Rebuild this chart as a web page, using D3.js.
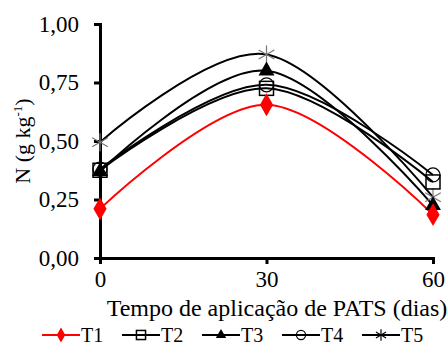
<!DOCTYPE html>
<html>
<head>
<meta charset="utf-8">
<script src="https://cdn.jsdelivr.net/npm/d3@7"></script>
<style>
  body { margin: 0; background: #fff; }
</style>
</head>
<body>
<div id="chart"></div>
<script>
// data
const days = [0, 30, 60];
const seriesNames = ['T1', 'T2', 'T3', 'T4', 'T5'];
const t1 = [0.21, 0.655, 0.185];
const t2 = [0.375, 0.725, 0.325];
const t3 = [0.37, 0.80, 0.225];
const t4 = [0.38, 0.74, 0.355];
const t5 = [0.495, 0.87, 0.26];
const yTicks = [0, 0.25, 0.5, 0.75, 1];

const width = 448, height = 345;
const margin = {left: 100, right: 15, top: 24, bottom: 87};
const serif = 'Liberation Serif';

const svg = d3.select('#chart').append('svg')
  .attr('width', width).attr('height', height);

const x = d3.scaleLinear().domain([0, 60]).range([margin.left, width - margin.right]);
const y = d3.scaleLinear().domain([0, 1]).range([height - margin.bottom, margin.top]);

const fmt = d => d3.format('.2f')(d).replace('.', ',');

// axes
const yAxis = svg.append('g').attr('transform', `translate(${margin.left},0)`)
  .call(d3.axisLeft(y).tickValues(yTicks).tickFormat(fmt).tickSize(6).tickPadding(15));
const xAxis = svg.append('g').attr('transform', `translate(0,${y(0)})`)
  .call(d3.axisBottom(x).tickValues(days).tickSize(6).tickPadding(7));
[yAxis, xAxis].forEach(g => {
  g.attr('font-family', null).attr('font-size', null);
  g.select('.domain').attr('stroke', '#000').attr('stroke-width', 3);
  g.selectAll('.tick line').attr('stroke', '#000').attr('stroke-width', 3);
  g.selectAll('.tick text').attr('fill', '#000')
    .attr('font-family', serif).attr('font-size', 23);
});

// axis titles
svg.append('text')
  .attr('transform', `translate(30,141) rotate(-90)`)
  .attr('text-anchor', 'middle')
  .attr('font-family', serif).attr('font-size', 22)
  .html('N (g kg<tspan dy="-8" font-size="13">-1</tspan><tspan dy="8">)</tspan>');

svg.append('text')
  .attr('x', 277).attr('y', 316)
  .attr('text-anchor', 'middle')
  .attr('font-family', serif).attr('font-size', 24)
  .text('Tempo de aplicação de PATS (dias)');

// series
const series = [
  {name: 'T1', vals: t1, color: '#f00', shape: 'diamond'},
  {name: 'T2', vals: t2, color: '#000', shape: 'square'},
  {name: 'T3', vals: t3, color: '#000', shape: 'triangle'},
  {name: 'T4', vals: t4, color: '#000', shape: 'circle'},
  {name: 'T5', vals: t5, color: '#000', shape: 'star'}
];

const line = d3.line()
  .x((d, i) => x(days[i]))
  .y(d => y(d))
  .curve(d3.curveCatmullRom.alpha(0));

function drawMarker(g, shape, cx, cy, color, s) {
  s = s || 1;
  if (shape === 'diamond') {
    g.append('path').attr('d', d3.symbol(d3.symbolDiamond, 150 * s * s)())
      .attr('transform', `translate(${cx},${cy})`).attr('fill', color);
  } else if (shape === 'square') {
    g.append('rect').attr('x', cx - 7 * s).attr('y', cy - 7 * s)
      .attr('width', 14 * s).attr('height', 14 * s)
      .attr('fill', 'none').attr('stroke', color).attr('stroke-width', 1.5);
  } else if (shape === 'triangle') {
    g.append('path').attr('d', d3.symbol(d3.symbolTriangle, 110 * s * s)())
      .attr('transform', `translate(${cx},${cy})`).attr('fill', color);
  } else if (shape === 'circle') {
    g.append('circle').attr('cx', cx).attr('cy', cy).attr('r', 7 * s)
      .attr('fill', 'none').attr('stroke', color).attr('stroke-width', 1.2);
  } else if (shape === 'star') {
    const r = 9 * s;
    [0, 60, 120].forEach(a => {
      const rad = a * Math.PI / 180;
      g.append('line')
        .attr('x1', cx - r * Math.sin(rad)).attr('y1', cy - r * Math.cos(rad))
        .attr('x2', cx + r * Math.sin(rad)).attr('y2', cy + r * Math.cos(rad))
        .attr('stroke', s < 1 ? '#000' : '#777').attr('stroke-width', 1.2);
    });
  }
}

const plot = svg.append('g');
series.forEach(sr => {
  plot.append('path').datum(sr.vals)
    .attr('d', line)
    .attr('fill', 'none')
    .attr('stroke', sr.color)
    .attr('stroke-width', 2);
});
series.slice().reverse().forEach(sr => {
  sr.vals.forEach((v, i) => drawMarker(plot, sr.shape, x(days[i]), y(v), sr.color));
});

// legend
const legendX = [42, 122, 202, 282, 362];
const legend = svg.append('g');
series.forEach((sr, i) => {
  const lx = legendX[i], ly = 335;
  legend.append('line').attr('x1', lx).attr('x2', lx + 38).attr('y1', ly).attr('y2', ly)
    .attr('stroke', sr.color).attr('stroke-width', 2);
  drawMarker(legend, sr.shape, lx + 19, ly, sr.color, 0.65);
  legend.append('text').attr('x', lx + 39).attr('y', ly + 7)
    .attr('font-family', serif).attr('font-size', 20).text(sr.name);
});
</script>
</body>
</html>
